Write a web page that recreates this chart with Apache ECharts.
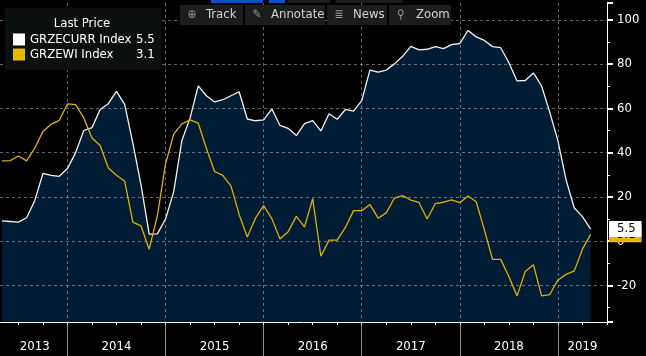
<!DOCTYPE html>
<html><head><meta charset="utf-8">
<script src="https://cdn.jsdelivr.net/npm/echarts@6/dist/echarts.min.js"></script>
<style>html,body{margin:0;padding:0;background:#000;}#c{width:646px;height:356px;}</style>
</head><body><div id="c"></div>
<script>
// ---- data ----
const seriesNames = ['GRZECURR Index', 'GRZEWI Index'];
const firstYear = 2013;
const firstMonth = 4; // April 2013 is the first observation (monthly)
const yearLabels = ['2013', '2014', '2015', '2016', '2017', '2018', '2019'];
const grzecurr = [
  9.2, 8.9, 8.6, 10.6, 18.3, 30.6, 29.7, 29.3, 32.8,
  40.0, 50.0, 51.3, 59.5, 62.1, 67.7, 61.8, 44.3, 25.4, 3.2, 3.3, 10.0,
  22.4, 45.5, 55.6, 70.2, 65.7, 62.9, 63.9, 65.7, 67.5, 55.2, 54.4, 54.8,
  59.7, 52.3, 51.0, 47.7, 53.1, 54.5, 49.8, 57.6, 55.1, 59.5, 58.8, 63.5,
  77.3, 76.4, 77.3, 80.1, 83.5, 88.0, 86.4, 86.7, 87.9, 87.0, 88.8, 89.3,
  95.2, 92.3, 90.7, 87.9, 87.4, 80.6, 72.4, 72.6, 76.0, 70.1, 58.2, 45.3,
  27.6, 15.0, 11.1, 5.5
];
const grzewi = [
  36.3, 36.4, 38.5, 36.3, 42.0, 49.6, 52.8, 54.6, 62.0,
  61.7, 55.7, 46.6, 43.2, 33.1, 29.8, 27.1, 8.6, 6.9, -3.6, 11.5, 34.9,
  48.4, 53.0, 54.8, 53.3, 41.9, 31.5, 29.7, 25.0, 12.1, 1.9, 10.4, 16.1,
  10.2, 1.0, 4.3, 11.2, 6.4, 19.2, -6.8, 0.5, 0.5, 6.2, 13.8, 13.8,
  16.6, 10.4, 12.8, 19.5, 20.6, 18.6, 17.5, 10.0, 17.0, 17.6, 18.7, 17.4,
  20.4, 17.8, 5.1, -8.2, -8.2, -16.1, -24.7, -13.7, -10.6, -24.7, -24.1, -17.5,
  -15.0, -13.4, -3.6, 3.1
];

// ---- build ----
const F = "'DejaVu Sans Condensed','Liberation Sans Narrow','Roboto Condensed','DejaVu Sans',sans-serif";
// x unit: months since Jan 1 2013; each observation sits at the end of its month
const xMin = 3.75, xMax = 78, step = 0.25;
const toPts = arr => arr.map((v, k) => [firstMonth + k, v]);
const curPts = toPts(grzecurr);
const ewiPts = toPts(grzewi);
// fine category grid (quarter-month) aligned with the value axis, used for ticks / labels
const catM = [];
for (let m = xMin; m <= xMax + 1e-9; m += step) catM.push(m);
const yearCats = catM.map(() => '');
yearLabels.forEach((y, i) => {
  const a = Math.max(i * 12, firstMonth), b = Math.min(i * 12 + 12, xMax);
  const c = (a + b) / 2;
  const idx = catM.findIndex(m => Math.abs(m - c) < 1e-9);
  if (idx >= 0) yearCats[idx] = y;
});
const isYearStart = (i) => { const m = catM[i]; return m % 12 === 0 && m < xMax; };
const isQuarter = (i) => { const m = catM[i]; return m % 3 === 0; };
const lastCur = grzecurr[grzecurr.length - 1];
const lastEwi = grzewi[grzewi.length - 1];
const WHITE = '#f2f2f2', YEL = '#e0b000';
const dash = { color: 'rgba(200,200,200,0.5)', type: [3, 3], width: 1 };
const tagLabel = (text, bg) => ({
  show: true, position: 'end', distance: 2, formatter: text, opacity: 1,
  backgroundColor: bg, color: '#000', fontSize: 13, fontFamily: F, padding: [2, 6, 1, 8]
});

const chart = echarts.init(document.getElementById('c'), null, { renderer: 'canvas' });
chart.setOption({
  backgroundColor: '#000',
  animation: false,
  grid: { left: 0, right: 39, top: 3, bottom: 34, containLabel: false, outerBoundsMode: 'none' },
  xAxis: [
    { type: 'value', min: xMin, max: xMax, z: 1.5,
      axisLine: { show: true, onZero: false, lineStyle: { color: '#fff', width: 1 } },
      axisTick: { show: false }, axisLabel: { show: false }, splitLine: { show: false } },
    { type: 'category', data: yearCats, boundaryGap: false, position: 'bottom', z: 1.5,
      axisLine: { show: false, onZero: false },
      axisTick: { show: true, length: 34, interval: (i) => isYearStart(i), lineStyle: { color: '#8a8a8a' } },
      axisLabel: { show: true, interval: 0, color: '#fff', fontSize: 13, fontFamily: F, margin: 18 },
      splitLine: { show: true, interval: (i) => isYearStart(i), lineStyle: dash } },
    { type: 'category', data: catM.map(() => ''), boundaryGap: false, position: 'bottom', z: 1.6,
      axisLine: { show: false, onZero: false },
      axisTick: { show: true, length: 3, interval: (i) => isQuarter(i), lineStyle: { color: '#fff' } },
      axisLabel: { show: false }, splitLine: { show: false } }
  ],
  yAxis: {
    type: 'value', position: 'right', min: -36.5, max: 107.6, splitNumber: 7, minInterval: 20, maxInterval: 20, z: 1.5,
    axisLine: { show: true, onZero: false, lineStyle: { color: '#fff', width: 1 } },
    axisTick: { show: true, length: 6, lineStyle: { color: '#fff', width: 2 } },
    minorTick: { show: true, splitNumber: 2, length: 3, lineStyle: { color: '#fff' } },
    axisLabel: { color: '#fff', fontSize: 13, fontFamily: F, margin: 10, showMinLabel: false, showMaxLabel: false },
    splitLine: { show: true, showMinLine: false, showMaxLine: false, lineStyle: dash }
  },
  legend: {
    left: 5, top: 8, orient: 'vertical', icon: 'rect', itemWidth: 12, itemHeight: 12, itemGap: 2,
    padding: [25, 7, 9, 8], backgroundColor: '#0b100e', borderRadius: 2, selectedMode: false,
    data: [
      { name: seriesNames[0], itemStyle: { color: '#ffffff', borderWidth: 0 } },
      { name: seriesNames[1], itemStyle: { color: '#e6b800', borderWidth: 0 } }
    ],
    formatter: (name) => `{n|${name}}{v|${name === seriesNames[0] ? lastCur : lastEwi}}`,
    textStyle: {
      color: '#fff', fontSize: 13, fontFamily: F,
      rich: {
        n: { width: 106, color: '#fff', fontSize: 13, fontFamily: F, lineHeight: 13 },
        v: { width: 17, color: '#fff', fontSize: 13, fontFamily: F, lineHeight: 13 }
      }
    }
  },
  series: [
    { name: seriesNames[0], type: 'line', xAxisIndex: 0, data: curPts, symbol: 'none', z: 1,
      color: '#ffffff',
      lineStyle: { color: WHITE, width: 1.3 },
      areaStyle: { color: '#011d35', origin: 'start', opacity: 1 } },
    { name: seriesNames[1], type: 'line', xAxisIndex: 0, data: ewiPts, symbol: 'none', z: 3,
      color: YEL,
      lineStyle: { color: YEL, width: 1.3 },
      markLine: {
        silent: true, symbol: 'none', animation: false,
        lineStyle: { color: 'rgba(0,0,0,0)', width: 0, type: 'solid' },
        data: [
          { yAxis: lastEwi, label: tagLabel(String(lastEwi), '#e6b800') },
          { yAxis: lastCur, label: tagLabel(String(lastCur), '#ffffff') }
        ]
      } }
  ],
  graphic: { elements: [
    { type: 'rect', z: 100, shape: { x: 211, y: 0, width: 52, height: 3 }, style: { fill: '#0c50c2' } },
    { type: 'rect', z: 100, shape: { x: 269, y: 0, width: 16, height: 3 }, style: { fill: '#0c50c2' } },
    { type: 'rect', z: 100, shape: { x: 288, y: 0, width: 42, height: 3 }, style: { fill: '#1b1d1c' } },
    { type: 'rect', z: 100, shape: { x: 336, y: 0, width: 67, height: 3 }, style: { fill: '#1b1d1c' } },
    { type: 'rect', z: 100, shape: { x: 180, y: 5, width: 63, height: 20 }, style: { fill: '#1b1d1c' } },
    { type: 'rect', z: 100, shape: { x: 245, y: 5, width: 80, height: 20 }, style: { fill: '#1b1d1c' } },
    { type: 'rect', z: 100, shape: { x: 327, y: 5, width: 60, height: 20 }, style: { fill: '#1b1d1c' } },
    { type: 'rect', z: 100, shape: { x: 389, y: 5, width: 62, height: 20 }, style: { fill: '#1b1d1c' } },
    { type: 'text', z: 101, x: 192, y: 15, style: { text: '⊕', fill: '#9a9a9a', font: '12px ' + F, align: 'center', verticalAlign: 'middle' } },
    { type: 'text', z: 101, x: 206, y: 15, style: { text: 'Track', fill: '#d2d2d2', font: '13px ' + F, align: 'left', verticalAlign: 'middle' } },
    { type: 'text', z: 101, x: 257, y: 15, style: { text: '✎', fill: '#9a9a9a', font: '12px ' + F, align: 'center', verticalAlign: 'middle' } },
    { type: 'text', z: 101, x: 271, y: 15, style: { text: 'Annotate', fill: '#d2d2d2', font: '13px ' + F, align: 'left', verticalAlign: 'middle' } },
    { type: 'text', z: 101, x: 339, y: 15, style: { text: '≣', fill: '#9a9a9a', font: '12px ' + F, align: 'center', verticalAlign: 'middle' } },
    { type: 'text', z: 101, x: 353, y: 15, style: { text: 'News', fill: '#d2d2d2', font: '13px ' + F, align: 'left', verticalAlign: 'middle' } },
    { type: 'text', z: 101, x: 401, y: 15, style: { text: '⚲', fill: '#9a9a9a', font: '12px ' + F, align: 'center', verticalAlign: 'middle' } },
    { type: 'text', z: 101, x: 416, y: 15, style: { text: 'Zoom', fill: '#d2d2d2', font: '13px ' + F, align: 'left', verticalAlign: 'middle' } },
    { type: 'text', z: 101, x: 82, y: 24, style: { text: 'Last Price', fill: '#ffffff', font: '13px ' + F, align: 'center', verticalAlign: 'middle' } }
  ] }
});
</script>
</body></html>
